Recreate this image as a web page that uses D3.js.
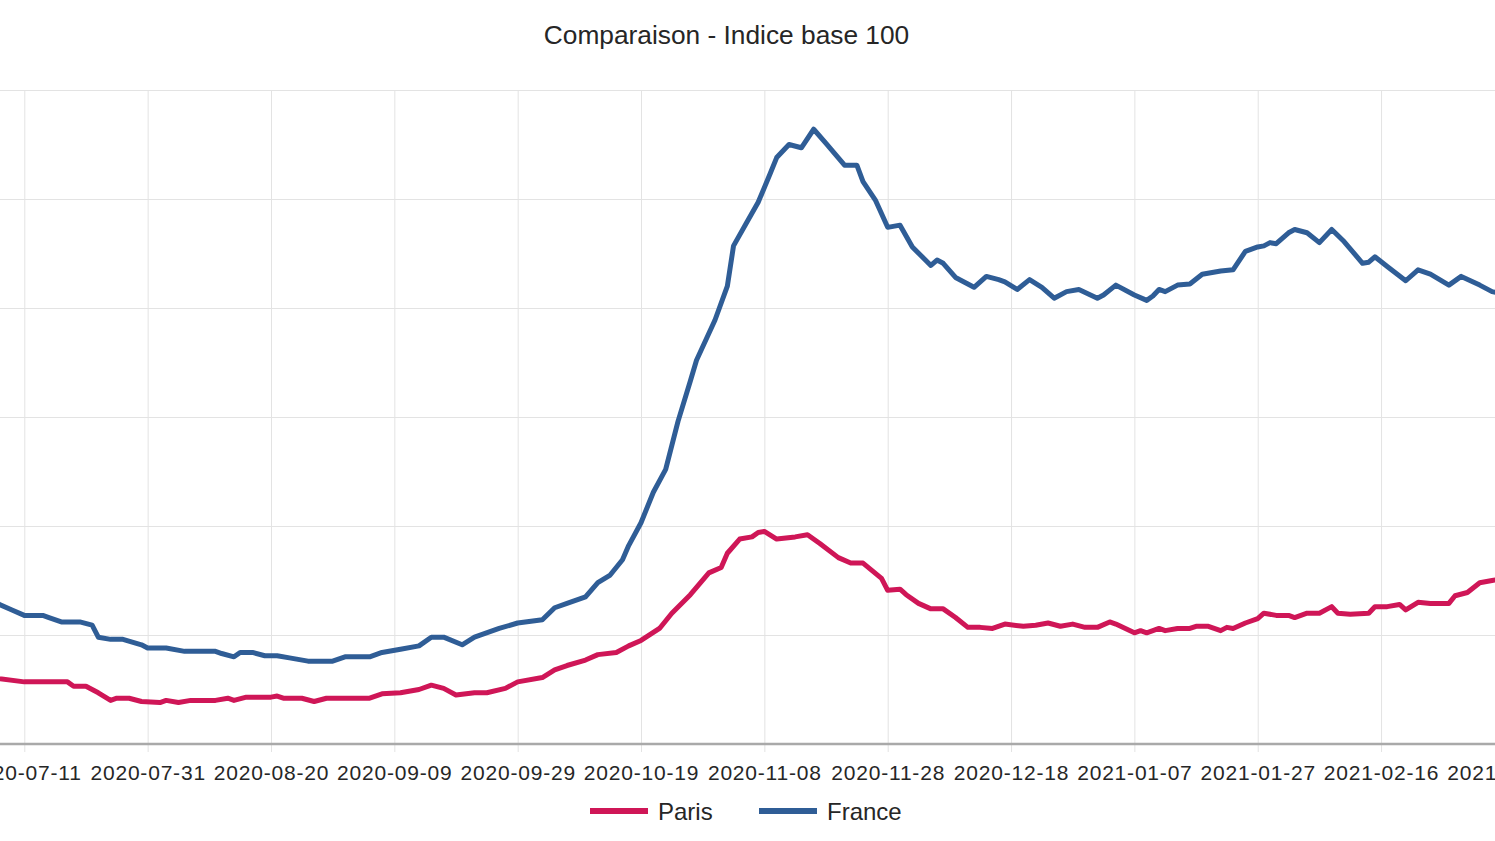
<!DOCTYPE html>
<html>
<head>
<meta charset="utf-8">
<script src="https://cdn.jsdelivr.net/npm/d3@7"></script>
<style>
  html, body { margin: 0; padding: 0; background: #fff; overflow: hidden; }
  svg { display: block; font-family: "Liberation Sans", Arial, sans-serif; }
  .grid line { stroke: #e3e3e3; stroke-width: 1; }
  .grid path { display: none; }
  .xAxis path { display: none; }
  .xAxis line { stroke: #e3e3e3; }
  .xAxis text { fill: #262626; font-size: 21px; letter-spacing: 0.8px; }
</style>
</head>
<body>
<div id="chart"></div>
<script>
// x tick labels (every 20 days)
let tickDates = ["2020-07-11", "2020-07-31", "2020-08-20", "2020-09-09", "2020-09-29", "2020-10-19",
    "2020-11-08", "2020-11-28", "2020-12-18", "2021-01-07", "2021-01-27", "2021-02-16", "2021-03-08"]

let seriesNames = ["Paris", "France"]
let seriesColors = ["#cf1657", "#2f5d96"]

let parisDates = ["2020-07-06", "2020-07-07", "2020-07-11", "2020-07-14", "2020-07-18", "2020-07-19", "2020-07-21", "2020-07-23", "2020-07-25", "2020-07-26",
    "2020-07-28", "2020-07-30", "2020-08-02", "2020-08-03", "2020-08-05", "2020-08-07", "2020-08-11", "2020-08-13", "2020-08-14", "2020-08-16",
    "2020-08-20", "2020-08-21", "2020-08-22", "2020-08-25", "2020-08-27", "2020-08-29", "2020-09-05", "2020-09-07", "2020-09-10", "2020-09-13",
    "2020-09-15", "2020-09-17", "2020-09-19", "2020-09-22", "2020-09-24", "2020-09-27", "2020-09-29", "2020-10-03", "2020-10-05", "2020-10-07",
    "2020-10-10", "2020-10-12", "2020-10-15", "2020-10-17", "2020-10-19", "2020-10-22", "2020-10-24", "2020-10-27", "2020-10-30", "2020-11-01",
    "2020-11-02", "2020-11-04", "2020-11-06", "2020-11-07", "2020-11-08", "2020-11-10", "2020-11-13", "2020-11-15", "2020-11-17", "2020-11-20",
    "2020-11-22", "2020-11-24", "2020-11-27", "2020-11-28", "2020-11-30", "2020-12-01", "2020-12-03", "2020-12-05", "2020-12-07", "2020-12-09",
    "2020-12-11", "2020-12-13", "2020-12-15", "2020-12-17", "2020-12-20", "2020-12-22", "2020-12-24", "2020-12-26", "2020-12-28", "2020-12-30",
    "2021-01-01", "2021-01-03", "2021-01-04", "2021-01-07", "2021-01-08", "2021-01-09", "2021-01-11", "2021-01-12", "2021-01-14", "2021-01-16",
    "2021-01-17", "2021-01-19", "2021-01-21", "2021-01-22", "2021-01-23", "2021-01-25", "2021-01-27", "2021-01-28", "2021-01-30", "2021-02-01",
    "2021-02-02", "2021-02-04", "2021-02-06", "2021-02-08", "2021-02-09", "2021-02-11", "2021-02-14", "2021-02-15", "2021-02-17", "2021-02-19",
    "2021-02-20", "2021-02-22", "2021-02-24", "2021-02-27", "2021-02-28", "2021-03-02", "2021-03-04", "2021-03-06", "2021-03-08"]
let parisValues = [61, 60, 57, 57, 57, 53, 53, 47, 40, 42,
    42, 39, 38, 40, 38, 40, 40, 42, 40, 43,
    43, 44, 42, 42, 39, 42, 42, 46, 47, 50,
    54, 51, 45, 47, 47, 51, 57, 61, 68, 72,
    77, 82, 84, 90, 95, 106, 120, 137, 157, 162,
    175, 188, 190, 194, 195, 188, 190, 192, 184, 171,
    166, 166, 152, 141, 142, 137, 129, 124, 124, 116,
    107, 107, 106, 110, 108, 109, 111, 108, 110, 107,
    107, 112, 110, 102, 104, 102, 106, 104, 106, 106,
    108, 108, 104, 107, 106, 111, 115, 120, 118, 118,
    116, 120, 120, 126, 120, 119, 120, 126, 126, 128,
    123, 130, 129, 129, 136, 139, 148, 150, 152]

let franceDates = ["2020-07-06", "2020-07-07", "2020-07-09", "2020-07-11", "2020-07-14", "2020-07-15", "2020-07-17", "2020-07-20", "2020-07-22", "2020-07-23",
    "2020-07-25", "2020-07-27", "2020-07-30", "2020-07-31", "2020-08-03", "2020-08-06", "2020-08-08", "2020-08-11", "2020-08-12", "2020-08-14",
    "2020-08-15", "2020-08-17", "2020-08-19", "2020-08-21", "2020-08-23", "2020-08-26", "2020-08-30", "2020-09-01", "2020-09-05", "2020-09-07",
    "2020-09-10", "2020-09-13", "2020-09-15", "2020-09-17", "2020-09-20", "2020-09-22", "2020-09-26", "2020-09-29", "2020-10-03", "2020-10-05",
    "2020-10-07", "2020-10-10", "2020-10-12", "2020-10-14", "2020-10-16", "2020-10-17", "2020-10-19", "2020-10-21", "2020-10-23", "2020-10-24",
    "2020-10-25", "2020-10-27", "2020-10-28", "2020-10-31", "2020-11-02", "2020-11-03", "2020-11-05", "2020-11-07", "2020-11-09", "2020-11-10",
    "2020-11-12", "2020-11-14", "2020-11-16", "2020-11-18", "2020-11-21", "2020-11-23", "2020-11-24", "2020-11-26", "2020-11-28", "2020-11-30",
    "2020-12-02", "2020-12-05", "2020-12-06", "2020-12-07", "2020-12-09", "2020-12-12", "2020-12-14", "2020-12-16", "2020-12-17", "2020-12-19",
    "2020-12-21", "2020-12-23", "2020-12-25", "2020-12-27", "2020-12-29", "2021-01-01", "2021-01-02", "2021-01-04", "2021-01-07", "2021-01-09",
    "2021-01-10", "2021-01-11", "2021-01-12", "2021-01-14", "2021-01-16", "2021-01-18", "2021-01-21", "2021-01-23", "2021-01-25", "2021-01-27",
    "2021-01-28", "2021-01-29", "2021-01-30", "2021-02-01", "2021-02-02", "2021-02-04", "2021-02-06", "2021-02-08", "2021-02-10", "2021-02-13",
    "2021-02-14", "2021-02-15", "2021-02-17", "2021-02-20", "2021-02-22", "2021-02-24", "2021-02-27", "2021-03-01", "2021-03-04", "2021-03-06",
    "2021-03-08"]
let franceValues = [131, 128, 123, 118, 118, 116, 112, 112, 109, 98,
    96, 96, 91, 88, 88, 85, 85, 85, 83, 80,
    84, 84, 81, 81, 79, 76, 76, 80, 80, 84,
    87, 90, 98, 98, 91, 98, 106, 111, 114, 125,
    129, 135, 148, 155, 169, 182, 203, 231, 252, 274,
    296, 333, 352, 389, 420, 457, 477, 497, 524, 538,
    550, 547, 564, 551, 531, 531, 516, 499, 474, 476,
    456, 439, 444, 441, 428, 419, 429, 426, 424, 417,
    426, 419, 409, 415, 417, 409, 412, 421, 412, 407,
    411, 417, 415, 421, 422, 431, 434, 435, 452, 456,
    457, 460, 459, 469, 472, 469, 460, 472, 461, 441,
    442, 447, 438, 425, 435, 431, 421, 429, 421, 415,
    413]

let width = 1495, height = 841
let parseDate = d3.utcParse("%Y-%m-%d")

// plot area runs past the window on both sides (picture is cropped)
let plot = { left: 24.3, right: 1504.4, top: 90, bottom: 744 }

let svg = d3.select("#chart").append("svg")
    .attr("width", width).attr("height", height)

let xScale = d3.scaleUtc()
    .domain([parseDate(tickDates[0]), parseDate(tickDates[tickDates.length - 1])])
    .range([plot.left, plot.right])
let yScale = d3.scaleLinear().domain([0, 600]).range([plot.bottom, plot.top])

// horizontal grid
let yGrid = d3.axisLeft(yScale).tickValues(d3.range(100, 601, 100))
    .tickSize(-(width + 40)).tickFormat("")
svg.append("g").attr("class", "grid")
    .attr("transform", `translate(${-20}, 0)`)
    .call(yGrid)

// vertical grid + x labels
let xAxis = d3.axisBottom(xScale)
    .tickValues(tickDates.map(parseDate))
    .tickSize(8)
    .tickPadding(10)
    .tickFormat(d3.utcFormat("%Y-%m-%d"))
let xg = svg.append("g").attr("class", "xAxis")
    .attr("transform", `translate(0, ${plot.bottom})`)
    .call(xAxis)
xg.selectAll(".tick line").attr("y1", -(plot.bottom - plot.top))
xg.selectAll(".tick text").attr("dy", "0.85em")

// bottom axis line
svg.append("line")
    .attr("x1", 0).attr("x2", width)
    .attr("y1", plot.bottom).attr("y2", plot.bottom)
    .attr("stroke", "#a9a9a9").attr("stroke-width", 2.5)

// lines
let series = [
    { name: seriesNames[0], color: seriesColors[0], dates: parisDates, values: parisValues },
    { name: seriesNames[1], color: seriesColors[1], dates: franceDates, values: franceValues }
]
let line = d3.line()
    .x(d => xScale(d[0]))
    .y(d => yScale(d[1]))

svg.selectAll(".series")
    .data(series)
    .enter().append("path")
    .attr("class", "series")
    .attr("fill", "none")
    .attr("stroke", d => d.color)
    .attr("stroke-width", 5)
    .attr("stroke-linejoin", "round")
    .attr("stroke-linecap", "round")
    .attr("d", d => line(d.dates.map((t, i) => [parseDate(t), d.values[i]])))

// title
svg.append("text")
    .attr("x", 726.5).attr("y", 44)
    .attr("text-anchor", "middle")
    .attr("font-size", 26.3)
    .attr("fill", "#262626")
    .text("Comparaison - Indice base 100")

// legend
let legendX = [590, 759]
let legend = svg.selectAll(".legend")
    .data(series)
    .enter().append("g")
    .attr("class", "legend")
    .attr("transform", (d, i) => `translate(${legendX[i]}, 811)`)
legend.append("line")
    .attr("x1", 0).attr("x2", 58)
    .attr("stroke", d => d.color).attr("stroke-width", 6)
legend.append("text")
    .attr("x", 68).attr("y", 9)
    .attr("font-size", 24)
    .attr("fill", "#262626")
    .text(d => d.name)
</script>
</body>
</html>
